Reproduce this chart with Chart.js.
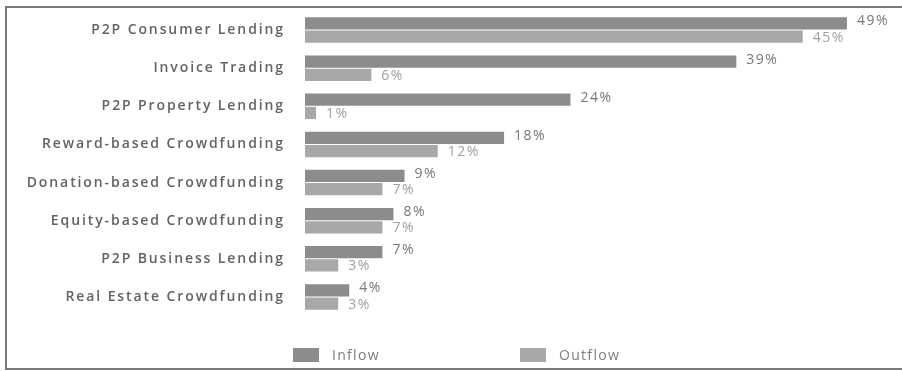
<!DOCTYPE html>
<html>
<head>
<meta charset="utf-8">
<script src="https://cdn.jsdelivr.net/npm/chart.js@4/dist/chart.umd.min.js"></script>
<style>
  html, body { margin: 0; padding: 0; background: #fff; }
  #wrap { width: 902px; height: 371px; position: relative; }
</style>
</head>
<body>
<div id="wrap"><canvas id="myChart" width="902" height="371"></canvas></div>
<script>
// Categories, top to bottom
const categories = [
  'P2P Consumer Lending',
  'Invoice Trading',
  'P2P Property Lending',
  'Reward-based Crowdfunding',
  'Donation-based Crowdfunding',
  'Equity-based Crowdfunding',
  'P2P Business Lending',
  'Real Estate Crowdfunding'
];

// Series values (percent)
const inflow = [49, 39, 24, 18, 9, 8, 7, 4];
const outflow = [45, 6, 1, 12, 7, 7, 3, 3];

const seriesNames = ['Inflow', 'Outflow'];

document.addEventListener('DOMContentLoaded', function () {
  const inflowColor = '#8c8c8c';
  const outflowColor = '#a8a8a8';
  const labelFont = '"Open Sans", sans-serif';

  // Gray frame around the picture (no right edge, it runs off the image)
  const framePlugin = {
    id: 'framePlugin',
    beforeDraw(chart) {
      const ctx = chart.ctx;
      ctx.save();
      ctx.strokeStyle = '#7a7a7a';
      ctx.lineWidth = 2;
      ctx.beginPath();
      ctx.moveTo(902, 7);
      ctx.lineTo(6, 7);
      ctx.lineTo(6, 369);
      ctx.lineTo(902, 369);
      ctx.stroke();
      ctx.restore();
      ctx.letterSpacing = '1.9px';
    },
    afterDraw(chart) {
      chart.ctx.letterSpacing = '0px';
    }
  };

  // Percent labels just past each bar end
  const valueLabels = {
    id: 'valueLabels',
    afterDatasetsDraw(chart) {
      const ctx = chart.ctx;
      ctx.save();
      ctx.font = '14px ' + labelFont;
      ctx.letterSpacing = '1.5px';
      ctx.textBaseline = 'middle';
      ctx.textAlign = 'left';
      chart.data.datasets.forEach((ds, di) => {
        const meta = chart.getDatasetMeta(di);
        ctx.fillStyle = di === 0 ? '#777777' : '#a0a0a0';
        meta.data.forEach((bar, i) => {
          ctx.fillText(ds.data[i] + '%', bar.x + 10, bar.y + (di === 0 ? -2 : 1));
        });
      });
      ctx.restore();
    }
  };

  // Legend drawn by hand so the items sit far apart like the original
  const bottomLegend = {
    id: 'bottomLegend',
    afterDraw(chart) {
      const ctx = chart.ctx;
      ctx.save();
      ctx.font = '14px ' + labelFont;
      ctx.letterSpacing = '1.3px';
      ctx.textBaseline = 'middle';
      const items = [
        { x: 293, color: inflowColor },
        { x: 520, color: outflowColor }
      ];
      items.forEach((it, i) => {
        ctx.fillStyle = it.color;
        ctx.fillRect(it.x, 348, 26, 14);
        ctx.fillStyle = '#7c7c7c';
        ctx.fillText(seriesNames[i], it.x + 39, 356);
      });
      ctx.restore();
    }
  };

  const ctx = document.getElementById('myChart').getContext('2d');
  new Chart(ctx, {
    type: 'bar',
    data: {
      labels: categories,
      datasets: [
        {
          label: seriesNames[0],
          data: inflow,
          backgroundColor: inflowColor,
          categoryPercentage: 0.7,
          barPercentage: 0.92
        },
        {
          label: seriesNames[1],
          data: outflow,
          backgroundColor: outflowColor,
          categoryPercentage: 0.7,
          barPercentage: 0.92
        }
      ]
    },
    options: {
      indexAxis: 'y',
      responsive: false,
      animation: false,
      layout: { padding: { top: 11, right: 44, bottom: 55, left: 0 } },
      plugins: {
        legend: { display: false },
        tooltip: { enabled: false }
      },
      scales: {
        x: { display: false, min: 0, max: 50 },
        y: {
          grid: { display: false },
          border: { display: false },
          afterFit(scale) {
            scale.width = 305;
            scale.paddingTop = 0;
            scale.paddingBottom = 0;
          },
          ticks: {
            padding: 12,
            color: '#636363',
            font: { family: labelFont, size: 14, weight: '600' }
          }
        }
      }
    },
    plugins: [framePlugin, valueLabels, bottomLegend]
  });
});
</script>
</body>
</html>
